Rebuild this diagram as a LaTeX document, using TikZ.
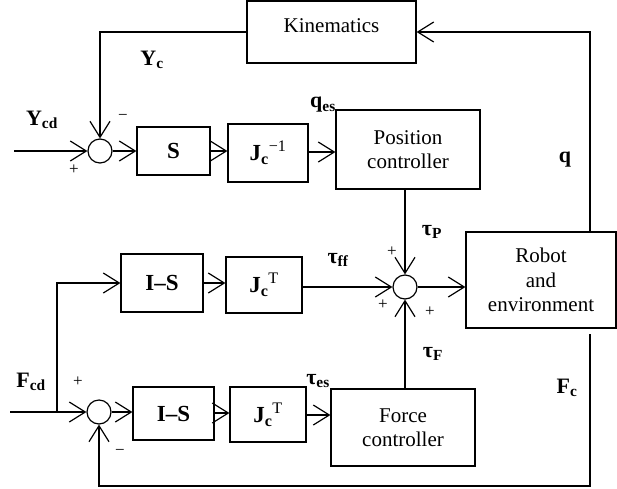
\documentclass[tikz,border=0pt]{standalone}
\usepackage{fontspec}
\setmainfont{Liberation Serif}
\usetikzlibrary{arrows.meta}
\begin{document}
\begin{tikzpicture}[x=1pt,y=-1pt,
  line width=1.2pt,
  arr/.style={-{Straight Barb[length=16pt,width=20pt,line width=1.2pt]}},
  blk/.style={draw,rectangle,inner sep=0pt,align=center,font=\fontsize{21}{24.5}\selectfont},
  sym/.style={draw,rectangle,inner sep=0pt,font=\fontsize{23}{26}\selectfont\bfseries},
  sumc/.style={draw,circle,minimum size=24pt,inner sep=0pt},
  lab/.style={inner sep=0pt,font=\fontsize{22}{24}\selectfont\bfseries},
  sgn/.style={inner sep=0pt,font=\fontsize{17}{18}\selectfont}]
\useasboundingbox (0,0) rectangle (617,488);

% blocks
\node[blk,minimum width=169pt,minimum height=62pt] (kin) at (331.5,32) {};
\node[inner sep=0pt,anchor=base,font=\fontsize{21}{24}\selectfont] (kintext) at (331.5,32) {Kinematics};
\node[sym,minimum width=73pt,minimum height=48pt] (S) at (173.5,151) {S};
\node[sym,minimum width=80pt,minimum height=58pt] (Jinv) at (268,153) {J\textsubscript{c}\textsuperscript{\mdseries −1}};
\node[blk,minimum width=144pt,minimum height=79pt] (pos) at (408,149.5) {Position\\controller};
\node[blk,minimum width=150pt,minimum height=96pt] (robot) at (541,280) {Robot\\and\\environment};
\node[sym,minimum width=82pt,minimum height=58pt] (IS1) at (162,283) {I–S};
\node[sym,minimum width=76pt,minimum height=56pt] (JT1) at (264,285) {J\textsubscript{c}\textsuperscript{\mdseries T}};
\node[sym,minimum width=81pt,minimum height=53pt] (IS2) at (173.5,413.5) {I–S};
\node[sym,minimum width=76pt,minimum height=55pt] (JT2) at (268,414.5) {J\textsubscript{c}\textsuperscript{\mdseries T}};
\node[blk,minimum width=144pt,minimum height=77pt] (force) at (403,427.5) {Force\\controller};

% summing junctions
\node[sumc] (c1) at (100,151) {};
\node[sumc] (sum) at (405,287) {};
\node[sumc] (c2) at (99,412) {};

% free ends
\coordinate (yin) at (14,151);
\coordinate (fin) at (10,412);
\coordinate (br) at (57,412);
\coordinate (fcs) at (590,334);
\coordinate (fcb) at (590,486);

% connectors
\draw[arr] (kin.west) -| (c1.north);
\draw[arr] (yin) -- (c1.west);
\draw[arr] (c1.east) -- (c1.east -| S.west);
\draw[arr] (S.east) -- (S.east -| Jinv.west);
\draw[arr] (Jinv.east |- 0,152) -- (pos.west |- 0,152);
\draw[arr] (sum.north |- pos.south) -- (sum.north);
\draw[arr] (sum.east) -- (sum.east -| robot.west);
\draw[arr] (robot.north -| fcs) |- (kin.east);
\draw[arr] (fcs) -- (fcb) -| (c2.south);
\draw[arr] (fin) -- (c2.west);
\draw[arr] (br) |- (IS1.west);
\draw[arr] (IS1.east) -- (IS1.east -| JT1.west);
\draw[arr] (JT1.east |- sum.west) -- (sum.west);
\draw[arr] (c2.east) -- (c2.east -| IS2.west);
\draw[arr] (IS2.east |- 0,413) -- (JT2.west |- 0,413);
\draw[arr] (JT2.east |- 0,415) -- (force.west |- 0,415);
\draw[arr] (sum.south |- force.north) -- (sum.south);

% signal labels
\node[lab] (lYcd) at (42,120) {Y\textsubscript{cd}};
\node[lab] (lYc) at (152,60) {Y\textsubscript{c}};
\node[lab] (lqes) at (323,105) {q\textsubscript{es}};
\node[lab] (lq) at (565,160) {q};
\node[lab] (ltp) at (432,232) {τ\textsubscript{P}};
\node[lab] (ltff) at (338,260) {τ\textsubscript{ff}};
\node[lab] (ltF) at (433,354) {τ\textsubscript{F}};
\node[lab] (ltes) at (318,381) {τ\textsubscript{es}};
\node[lab] (lFc) at (567,388) {F\textsubscript{c}};
\node[lab] (lFcd) at (31,382) {F\textsubscript{cd}};

% signs
\node[sgn] (s1) at (123,117) {−};
\node[sgn] (s2) at (74,170) {+};
\node[sgn] (s3) at (392,252) {+};
\node[sgn] (s4) at (383,305) {+};
\node[sgn] (s5) at (430,312) {+};
\node[sgn] (s6) at (78,382) {+};
\node[sgn] (s7) at (120,452) {−};
\end{tikzpicture}
\end{document}
